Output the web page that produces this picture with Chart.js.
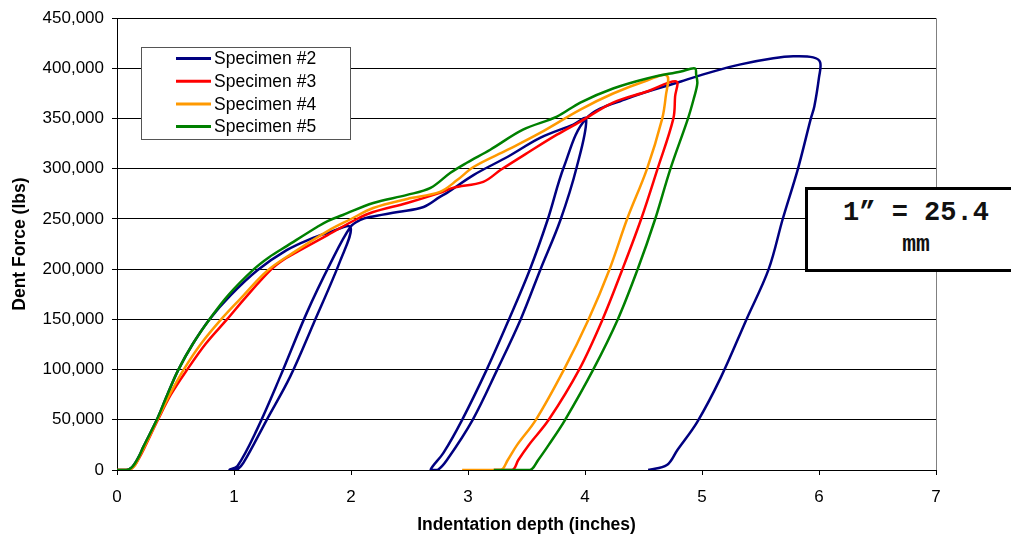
<!DOCTYPE html>
<html>
<head>
<meta charset="utf-8">
<script src="https://cdn.jsdelivr.net/npm/chart.js@4.4.1/dist/chart.umd.min.js"></script>
<style>
  html, body { margin: 0; padding: 0; background: #fff; overflow: hidden; }
  #wrap { position: relative; width: 1011px; height: 540px; }
  #note {
    position: absolute; left: 805px; top: 187px; width: 216px; height: 79px;
    border: 3px solid #000; background: #fff; text-align: center;
    font-family: "Liberation Mono", "Courier New", monospace; font-weight: bold; color: #111;
  }
  #note .l1 { font-size: 27px; line-height: 32px; margin-top: 7px; }
  #note .l2 { font-size: 23px; line-height: 32px; }
</style>
</head>
<body>
<div id="wrap">
  <canvas id="c" width="1011" height="540"></canvas>
  <div id="note"><div class="l1">1” = 25.4</div><div class="l2">mm</div></div>
</div>
<script>
// ---- Data ----
const seriesNames = ["Specimen #2", "Specimen #3", "Specimen #4", "Specimen #5"];
const seriesColors = ["#000080", "#FF0000", "#FF9900", "#008000"];

const spec2Depth = [0, 0.08, 0.12, 0.15, 0.19, 0.225, 0.34, 0.43, 0.525, 0.65, 0.79, 0.97, 1.20, 1.45, 1.65, 1.80, 1.995,
  1.91, 1.68, 1.48, 1.28, 1.08, 1.02, 0.96, 1.03, 1.195, 1.395, 1.62, 1.825, 1.995,
  2.08, 2.16, 2.40, 2.62, 2.76, 2.82, 3.05, 3.34, 3.62, 3.90, 4.01,
  3.93, 3.79, 3.62, 3.45, 3.25, 3.04, 2.82, 2.74, 2.68, 2.79, 2.95, 3.16, 3.35, 3.53, 3.68, 3.82, 4.01,
  4.36, 4.82, 5.10, 5.33, 5.61, 5.78, 5.95, 6.01, 6.00, 5.96, 5.93, 5.82, 5.69, 5.57, 5.38, 5.16, 4.96, 4.79, 4.70, 4.54];
const spec2Force = [0, 0, 2000, 6000, 14000, 23000, 50000, 75000, 100000, 126000, 150000, 174000, 199000, 219000, 230000, 236000, 242000,
  209000, 146000, 93000, 50000, 7000, 0, 0, 4000, 40000, 93000, 156000, 206000, 242000,
  249000, 252000, 257000, 262000, 272000, 276000, 294000, 312000, 331000, 344000, 350000,
  302000, 249000, 200000, 150000, 100000, 50000, 10000, 0, 0, 17000, 50000, 100000, 150000, 200000, 249000, 302000, 350000,
  370000, 387000, 397000, 404000, 410000, 412000, 411000, 406000, 391000, 362000, 350000, 300000, 250000, 200000, 150000, 92000, 48000, 20000, 5000, 0];

const spec3Depth = [0, 0.10, 0.13, 0.16, 0.19, 0.23, 0.35, 0.46, 0.60, 0.76, 0.94, 1.10, 1.32, 1.43, 1.55, 1.80, 2.05, 2.19, 2.48, 2.76, 2.87, 3.13, 3.28, 3.51, 3.76, 3.96, 4.24, 4.53, 4.78,
  4.77, 4.755, 4.62, 4.48, 4.32, 4.15, 3.95, 3.69, 3.52, 3.43, 3.38, 3.22];
const spec3Force = [0, 0, 2000, 6000, 12000, 21000, 50000, 75000, 100000, 126000, 150000, 172000, 200000, 210000, 218000, 234000, 250000, 257000, 266000, 276000, 281000, 287000, 299000, 316000, 334000, 347000, 366000, 377000, 387000,
  372000, 350000, 300000, 250000, 200000, 150000, 100000, 50000, 25000, 10000, 0, 0];

const spec4Depth = [0, 0.10, 0.13, 0.16, 0.19, 0.225, 0.345, 0.45, 0.57, 0.72, 0.89, 1.05, 1.28, 1.50, 1.80, 2.00, 2.19, 2.48, 2.76, 2.91, 3.05, 3.34, 3.62, 3.96, 4.24, 4.53, 4.70,
  4.69, 4.66, 4.53, 4.36, 4.21, 4.03, 3.82, 3.58, 3.42, 3.34, 3.28, 2.95];
const spec4Force = [0, 0, 2000, 6000, 13000, 21000, 50000, 75000, 100000, 126000, 150000, 170000, 198000, 216000, 238000, 250000, 261000, 270000, 277000, 289000, 302000, 319000, 336000, 359000, 375000, 388000, 393000,
  372000, 350000, 300000, 250000, 200000, 150000, 100000, 50000, 25000, 10000, 0, 0];

const spec5Depth = [0, 0.08, 0.12, 0.15, 0.19, 0.225, 0.34, 0.43, 0.525, 0.65, 0.79, 0.95, 1.17, 1.30, 1.45, 1.71, 1.80, 1.93, 2.19, 2.48, 2.68, 2.85, 2.99, 3.19, 3.47, 3.76, 3.96, 4.24, 4.53, 4.82, 4.94,
  4.95, 4.96, 4.93, 4.88, 4.73, 4.60, 4.45, 4.28, 4.07, 3.83, 3.69, 3.60, 3.53, 3.22];
const spec5Force = [0, 0, 2000, 6000, 14000, 23000, 50000, 75000, 100000, 126000, 150000, 174000, 200000, 212000, 223000, 242000, 248000, 254000, 266000, 274000, 281000, 296000, 306000, 319000, 339000, 352000, 366000, 380000, 390000, 397000, 400000,
  394000, 385000, 370000, 350000, 300000, 250000, 200000, 150000, 100000, 50000, 25000, 10000, 0, 0];

const xTickMin = 0, xTickMax = 7, xTickStep = 1;
const yTickMin = 0, yTickMax = 450000, yTickStep = 50000;
const xTitle = "Indentation depth (inches)";
const yTitle = "Dent Force (lbs)";

// ---- Build chart ----
function pts(xs, ys) { return xs.map((x, i) => ({ x: x, y: ys[i] })); }
const allDepth = [spec2Depth, spec3Depth, spec4Depth, spec5Depth];
const allForce = [spec2Force, spec3Force, spec4Force, spec5Force];

Chart.defaults.font.family = "'Liberation Sans', Arial, sans-serif";
Chart.defaults.color = "#000";

const datasets = seriesNames.map((name, i) => ({
  label: name,
  data: pts(allDepth[i], allForce[i]),
  showLine: true,
  borderColor: seriesColors[i],
  backgroundColor: seriesColors[i],
  borderWidth: 2.5,
  pointRadius: 0,
  fill: false,
  tension: 0.35,
  borderJoinStyle: 'round',
  order: seriesNames.length - 1 - i
}));

const overlay = {
  id: 'overlay',
  afterDraw(chart) {
    const { ctx, chartArea } = chart;
    ctx.save();
    // right plot border
    ctx.strokeStyle = '#808080';
    ctx.lineWidth = 1;
    const rx = Math.round(chartArea.right) + 0.5;
    ctx.beginPath();
    ctx.moveTo(rx, chartArea.top);
    ctx.lineTo(rx, chartArea.bottom);
    ctx.stroke();
    // legend box
    const bx = 141.5, by = 47.5, bw = 209, bh = 92;
    ctx.fillStyle = '#fff';
    ctx.fillRect(bx, by, bw, bh);
    ctx.strokeStyle = '#555';
    ctx.strokeRect(bx, by, bw, bh);
    ctx.font = "17.5px 'Liberation Sans', Arial, sans-serif";
    ctx.textBaseline = 'middle';
    ctx.textAlign = 'left';
    chart.data.datasets.forEach((ds, i) => {
      const yy = 59 + i * 22.7;
      ctx.strokeStyle = ds.borderColor;
      ctx.lineWidth = 3;
      ctx.beginPath();
      ctx.moveTo(176, yy - 0.5);
      ctx.lineTo(211, yy - 0.5);
      ctx.stroke();
      ctx.fillStyle = '#000';
      ctx.fillText(ds.label, 214, yy + 0.5);
    });
    ctx.restore();
  }
};

new Chart(document.getElementById('c'), {
  type: 'scatter',
  data: { datasets: datasets },
  plugins: [overlay],
  options: {
    responsive: false,
    animation: false,
    devicePixelRatio: 1,
    layout: { padding: { top: 18, right: 75, left: 0, bottom: 0 } },
    plugins: { legend: { display: false }, tooltip: { enabled: false } },
    scales: {
      x: {
        type: 'linear',
        min: xTickMin, max: xTickMax,
        ticks: { stepSize: xTickStep, font: { size: 17 }, color: '#000', padding: 12 },
        grid: { drawOnChartArea: false, drawTicks: true, tickLength: 5, color: '#000' },
        border: { color: '#000', width: 1 },
        title: { display: true, text: xTitle, font: { size: 17.5, weight: 'bold' }, color: '#000', padding: { top: 0, bottom: 4 } },
        afterFit: (s) => { s.height = 70; }
      },
      y: {
        type: 'linear',
        min: yTickMin, max: yTickMax,
        ticks: { stepSize: yTickStep, font: { size: 17 }, color: '#000', padding: 8,
                 callback: (v) => v.toLocaleString('en-US') },
        grid: { color: '#000', lineWidth: 1, tickLength: 5, drawTicks: true },
        border: { color: '#000', width: 1 },
        title: { display: true, text: yTitle, font: { size: 17.5, weight: 'bold' }, color: '#000', padding: { top: 10, bottom: 0 } },
        afterFit: (s) => { s.width = 117; }
      }
    }
  }
});
</script>
</body>
</html>
